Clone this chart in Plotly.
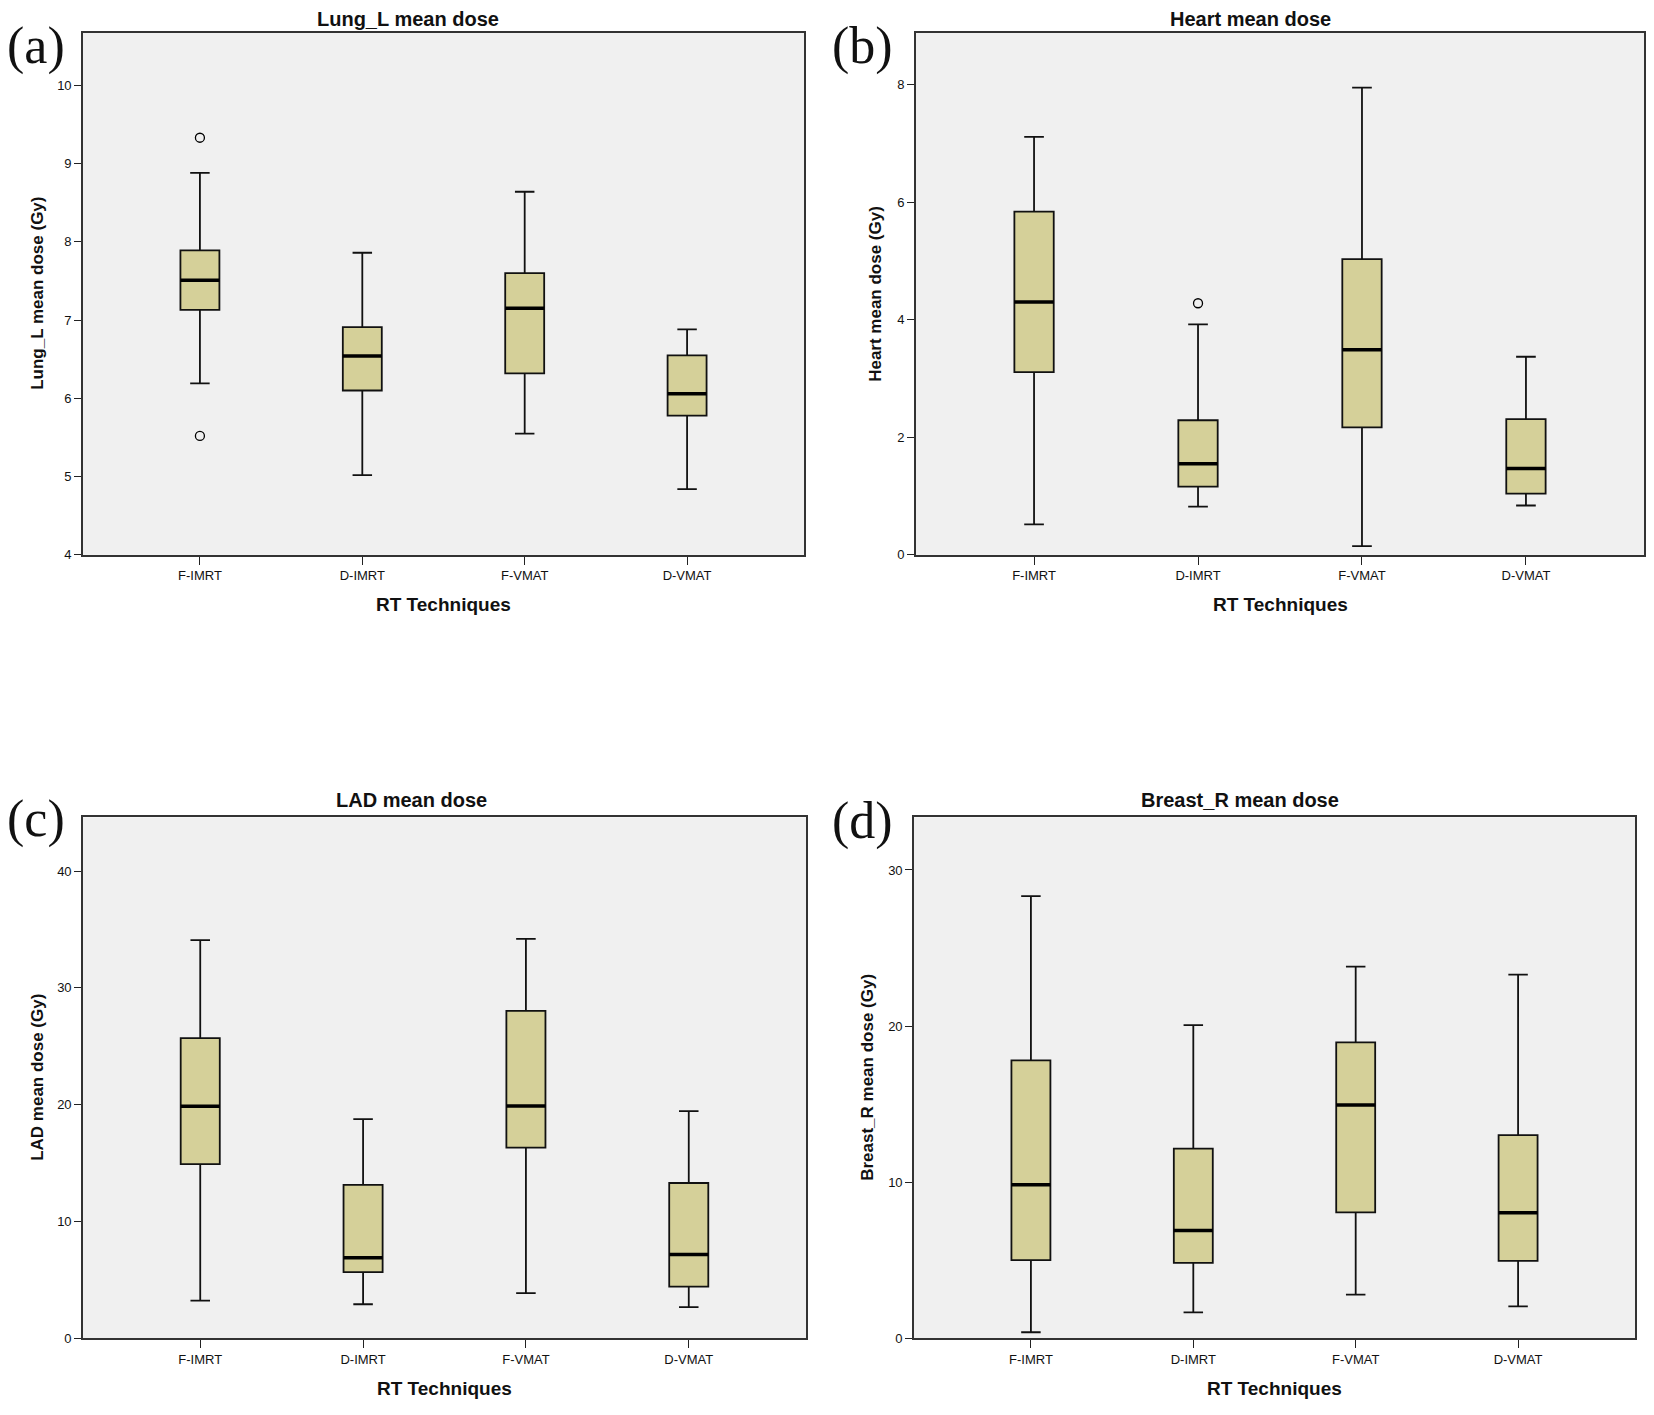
import plotly.graph_objects as go

categories = ["F-IMRT", "D-IMRT", "F-VMAT", "D-VMAT"]

# Panel (a) Lung_L mean dose
lung_low = [6.19, 5.02, 5.55, 4.84]
lung_q1 = [7.13, 6.10, 6.32, 5.78]
lung_med = [7.51, 6.54, 7.15, 6.06]
lung_q3 = [7.89, 6.91, 7.60, 6.55]
lung_high = [8.88, 7.86, 8.64, 6.88]
lung_out_cat = [0, 0]
lung_out_val = [9.33, 5.52]

# Panel (b) Heart mean dose
heart_low = [0.52, 0.82, 0.15, 0.84]
heart_q1 = [3.11, 1.16, 2.17, 1.04]
heart_med = [4.30, 1.55, 3.49, 1.47]
heart_q3 = [5.84, 2.29, 5.03, 2.31]
heart_high = [7.11, 3.92, 7.95, 3.37]
heart_out_cat = [1]
heart_out_val = [4.28]

# Panel (c) LAD mean dose
lad_low = [3.23, 2.92, 3.88, 2.68]
lad_q1 = [14.91, 5.67, 16.32, 4.43]
lad_med = [19.86, 6.91, 19.90, 7.18]
lad_q3 = [25.70, 13.13, 28.04, 13.30]
lad_high = [34.09, 18.76, 34.19, 19.45]

# Panel (d) Breast_R mean dose
breast_low = [0.39, 1.67, 2.80, 2.05]
breast_q1 = [5.01, 4.83, 8.07, 4.96]
breast_med = [9.84, 6.91, 14.95, 8.04]
breast_q3 = [17.80, 12.15, 18.96, 13.02]
breast_high = [28.33, 20.06, 23.81, 23.30]

titles = ["Lung_L mean dose", "Heart mean dose", "LAD mean dose", "Breast_R mean dose"]
ytitles = ["Lung_L mean dose (Gy)", "Heart mean dose (Gy)", "LAD mean dose (Gy)", "Breast_R mean dose (Gy)"]
panel_labels = ["(a)", "(b)", "(c)", "(d)"]
xtitle = "RT Techniques"
yranges = [[4, 10.67], [0, 8.88], [0, 44.6], [0, 33.37]]
yticks = [[4, 5, 6, 7, 8, 9, 10], [0, 2, 4, 6, 8], [0, 10, 20, 30, 40], [0, 10, 20, 30]]

OFF = 8  # page body margin
W, H = 1654 - 2 * OFF, 1399
# plot areas in page pixels (left, right, top, bottom)
areas = [(83, 804, 33, 558), (916, 1644, 33, 558), (83, 806, 822, 1346), (914, 1635, 822, 1346)]
title_pos = [(408, 19), (1250, 19), (411, 805), (1240, 805)]
label_pos = [(36, 46), (862, 46), (36, 824), (862, 826)]
ytitle_x = [38, 876, 38, 868]
xtitle_dy = 50

FILL = "#D5D099"
BOXW = 0.24
pos = list(range(len(categories)))
TICKFONT = dict(family="Liberation Sans Narrow, Arial Narrow, Liberation Sans, Arial", size=13, color="#111")

panels = [
    (lung_low, lung_q1, lung_med, lung_q3, lung_high, lung_out_cat, lung_out_val),
    (heart_low, heart_q1, heart_med, heart_q3, heart_high, heart_out_cat, heart_out_val),
    (lad_low, lad_q1, lad_med, lad_q3, lad_high, [], []),
    (breast_low, breast_q1, breast_med, breast_q3, breast_high, [], []),
]


def px(x):
    return (x - OFF) / W


def py(y):
    return 1 - (y - OFF) / H


fig = go.Figure()
layout = {}
annotations = []
for i, (lo, q1, med, q3, hi, oc, ov) in enumerate(panels):
    xa = "x" if i == 0 else f"x{i+1}"
    ya = "y" if i == 0 else f"y{i+1}"
    fig.add_trace(go.Box(
        x=pos, q1=q1, median=med, q3=q3, lowerfence=lo, upperfence=hi,
        width=BOXW, whiskerwidth=0.5, fillcolor=FILL,
        line=dict(color="#111111", width=1.8), boxpoints=False,
        xaxis=xa, yaxis=ya, showlegend=False,
    ))
    mx, my = [], []
    for p, m in zip(pos, med):
        mx += [p - BOXW / 2, p + BOXW / 2, None]
        my += [m, m, None]
    fig.add_trace(go.Scatter(x=mx, y=my, mode="lines", line=dict(color="black", width=3.5),
                             xaxis=xa, yaxis=ya, showlegend=False, hoverinfo="skip"))
    if ov:
        fig.add_trace(go.Scatter(x=oc, y=ov, mode="markers",
                                 marker=dict(symbol="circle-open", size=9, color="black", line=dict(width=1.3)),
                                 xaxis=xa, yaxis=ya, showlegend=False))
    l, r, t, b = areas[i]
    kx = "xaxis" if i == 0 else f"xaxis{i+1}"
    ky = "yaxis" if i == 0 else f"yaxis{i+1}"
    layout[kx] = dict(domain=[px(l), px(r)], anchor=ya, range=[-0.72, 3.72],
                      tickmode="array", tickvals=pos, ticktext=categories,
                      ticks="outside", ticklen=8, tickwidth=1.3, tickcolor="#222",
                      showgrid=False, zeroline=False, showline=True, mirror=True,
                      linecolor="#333333", linewidth=1.6, tickfont=TICKFONT)
    layout[ky] = dict(domain=[py(b), py(t)], anchor=xa, range=yranges[i],
                      tickmode="array", tickvals=yticks[i],
                      ticks="outside", ticklen=7, tickwidth=1.3, tickcolor="#222",
                      showgrid=False, zeroline=False, showline=True, mirror=True,
                      linecolor="#333333", linewidth=1.6, tickfont=TICKFONT)
    tx, ty = title_pos[i]
    annotations.append(dict(text="<b>" + titles[i] + "</b>", x=px(tx), y=py(ty), xref="paper", yref="paper",
                            showarrow=False, xanchor="center", yanchor="middle", borderpad=0,
                            font=dict(family="Liberation Sans, Arial", size=20, color="#111")))
    lx, ly = label_pos[i]
    annotations.append(dict(text=panel_labels[i], x=px(lx), y=py(ly), xref="paper", yref="paper",
                            showarrow=False, xanchor="center", yanchor="middle",
                            font=dict(family="Liberation Serif, Times New Roman, serif", size=52, color="#111")))
    annotations.append(dict(text="<b>" + ytitles[i] + "</b>", x=px(ytitle_x[i]), y=py((t + b) / 2),
                            xref="paper", yref="paper", textangle=-90,
                            showarrow=False, xanchor="center", yanchor="middle",
                            font=dict(family="Liberation Sans, Arial", size=17, color="#111")))
    annotations.append(dict(text="<b>" + xtitle + "</b>", x=px((l + r) / 2), y=py(b + xtitle_dy),
                            xref="paper", yref="paper", borderpad=0,
                            showarrow=False, xanchor="center", yanchor="middle",
                            font=dict(family="Liberation Sans, Arial", size=19, color="#111")))

fig.update_layout(**layout)
fig.update_layout(width=W, height=H, margin=dict(l=0, r=0, t=0, b=0),
                  paper_bgcolor="white", plot_bgcolor="#F0F0F0",
                  annotations=annotations, showlegend=False)
fig.write_html("out.html")
